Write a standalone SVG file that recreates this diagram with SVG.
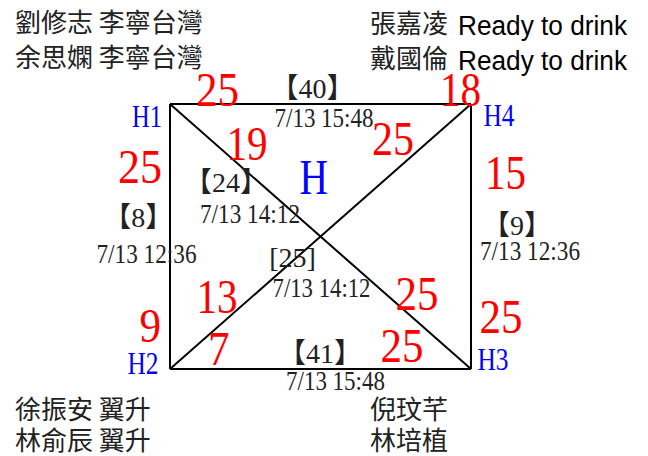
<svg xmlns="http://www.w3.org/2000/svg" width="648" height="456" viewBox="0 0 648 456">
<style>
.cjk{font-family:"Noto Sans CJK TC","Noto Sans CJK SC",sans-serif;font-size:26px;fill:#222}
.lat{font-family:"Liberation Sans",Arial,sans-serif;font-size:27px;fill:#000}
.num{font-family:"Liberation Serif","Times New Roman",serif;font-size:48px;fill:#ff0000}
.hl{font-family:"Liberation Serif","Times New Roman",serif;font-size:32px;fill:#0000ff}
.big{font-size:51px}
.dt{font-family:"Liberation Serif","Times New Roman",serif;font-size:28px;fill:#222}
.br{font-family:"Liberation Serif","Noto Sans CJK TC",serif;font-size:28px;fill:#222;text-anchor:middle}
.edge{stroke:#000;stroke-width:2;fill:none}
</style>
<rect width="648" height="456" fill="#fff"/>
<g id="connectors">
<line class="edge" x1="170" y1="104" x2="471" y2="104"/>
<line class="edge" x1="170" y1="104" x2="170" y2="369"/>
<line class="edge" x1="471" y1="104" x2="471" y2="369"/>
<line class="edge" x1="170" y1="369" x2="471" y2="369"/>
<line class="edge" x1="170" y1="104" x2="471" y2="369"/>
<line class="edge" x1="170" y1="369" x2="471" y2="104"/>
</g>
<g id="teams">
<text class="cjk" x="15" y="32">劉修志 李寧台灣</text>
<text class="cjk" x="15" y="67">余思嫻 李寧台灣</text>
<text class="cjk" x="370" y="33">張嘉凌</text>
<text class="lat" x="458" y="35" textLength="169" lengthAdjust="spacingAndGlyphs">Ready to drink</text>
<text class="cjk" x="370" y="68">戴國倫</text>
<text class="lat" x="458" y="70" textLength="169" lengthAdjust="spacingAndGlyphs">Ready to drink</text>
<text class="cjk" x="15" y="419">徐振安 翼升</text>
<text class="cjk" x="15" y="450">林俞辰 翼升</text>
<text class="cjk" x="370" y="419">倪玟芊</text>
<text class="cjk" x="370" y="450">林培植</text>
</g>
<g id="H1"><text class="hl" x="132" y="127" textLength="30" lengthAdjust="spacingAndGlyphs">H1</text></g>
<g id="H2"><text class="hl" x="127.5" y="374" textLength="31" lengthAdjust="spacingAndGlyphs">H2</text></g>
<g id="H3"><text class="hl" x="477.5" y="369.5" textLength="31" lengthAdjust="spacingAndGlyphs">H3</text></g>
<g id="H4"><text class="hl" x="483.5" y="126" textLength="31" lengthAdjust="spacingAndGlyphs">H4</text></g>
<g id="H"><text class="hl big" x="299.5" y="193.5" textLength="28.5" lengthAdjust="spacingAndGlyphs">H</text></g>
<g id="scores">
<text class="num" x="196" y="106" textLength="43" lengthAdjust="spacingAndGlyphs">25</text>
<text class="num" x="440" y="106" textLength="41" lengthAdjust="spacingAndGlyphs">18</text>
<text class="num" x="226.5" y="160" textLength="41" lengthAdjust="spacingAndGlyphs">19</text>
<text class="num" x="372" y="155" textLength="42" lengthAdjust="spacingAndGlyphs">25</text>
<text class="num" x="118" y="182.7" textLength="44" lengthAdjust="spacingAndGlyphs">25</text>
<text class="num" x="485" y="189.3" textLength="41" lengthAdjust="spacingAndGlyphs">15</text>
<text class="num" x="196.5" y="312.7" textLength="41" lengthAdjust="spacingAndGlyphs">13</text>
<text class="num" x="139.5" y="341.7" textLength="21.5" lengthAdjust="spacingAndGlyphs">9</text>
<text class="num" x="208" y="365" textLength="21.5" lengthAdjust="spacingAndGlyphs">7</text>
<text class="num" x="395.5" y="310" textLength="43" lengthAdjust="spacingAndGlyphs">25</text>
<text class="num" x="479.5" y="333" textLength="43" lengthAdjust="spacingAndGlyphs">25</text>
<text class="num" x="380.5" y="361.7" textLength="43" lengthAdjust="spacingAndGlyphs">25</text>
</g>
<g id="games">
<text class="br" x="312.5" y="98">【40】</text>
<text class="dt" x="274.5" y="126.7" textLength="99" lengthAdjust="spacingAndGlyphs">7/13 15:48</text>
<text class="br" x="226" y="192">【24】</text>
<text class="dt" x="200" y="223.3" textLength="100" lengthAdjust="spacingAndGlyphs">7/13 14:12</text>
<text class="br" x="138.3" y="227">【8】</text>
<text class="dt" x="96.5" y="263.3" textLength="100" lengthAdjust="spacingAndGlyphs">7/13 12:36</text>
<text class="br" x="517" y="235">【9】</text>
<text class="dt" x="480" y="260" textLength="100" lengthAdjust="spacingAndGlyphs">7/13 12:36</text>
<text class="dt" x="292.5" y="267.3" text-anchor="middle">[25]</text>
<text class="dt" x="272.5" y="297.3" textLength="98" lengthAdjust="spacingAndGlyphs">7/13 14:12</text>
<text class="br" x="320" y="362.7">【41】</text>
<text class="dt" x="286" y="390" textLength="99" lengthAdjust="spacingAndGlyphs">7/13 15:48</text>
</g>
</svg>
